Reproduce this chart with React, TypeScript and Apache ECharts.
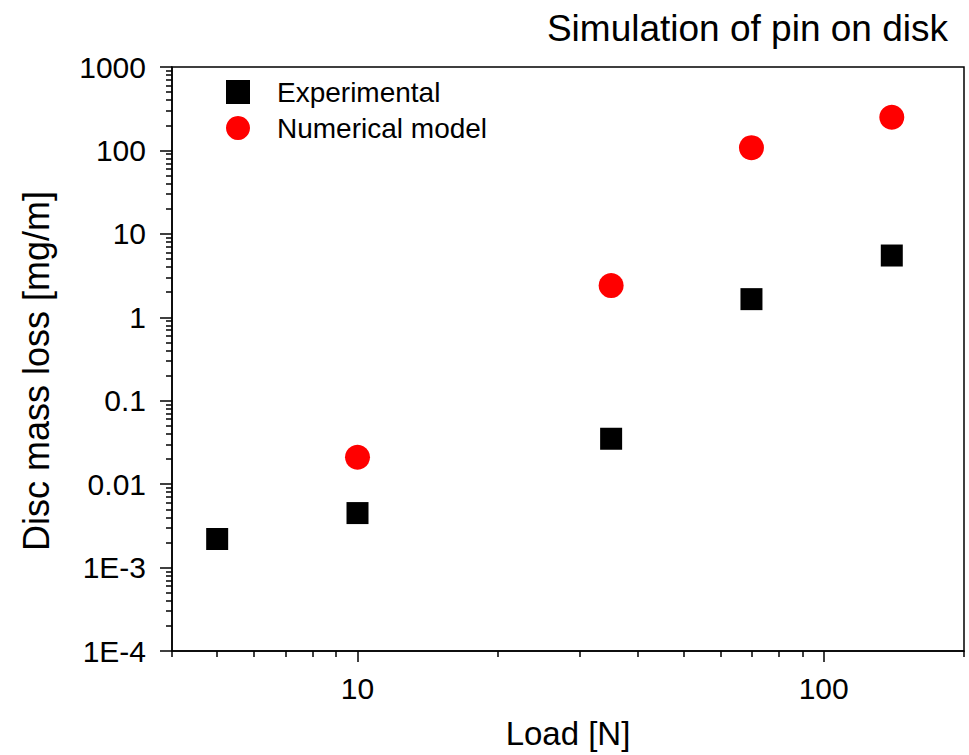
import React, { useEffect, useRef } from "react";
import * as echarts from "echarts";

// Experimental data
const expLoad = [5, 10, 35, 70, 140];
const expLoss = [0.0022, 0.0045, 0.035, 1.65, 5.5];
// Numerical model
const numLoad = [10, 35, 70, 140];
const numLoss = [0.021, 2.4, 108, 250];

// Axis ticks
const yMajor = [1e-4, 1e-3, 0.01, 0.1, 1, 10, 100, 1000];
const yLabels = ["1E-4", "1E-3", "0.01", "0.1", "1", "10", "100", "1000"];
const xMajor = [10, 100];
const xLabels = ["10", "100"];
const minorMultipliers = [2, 3, 4, 5, 6, 7, 8, 9];
const xMinorExtra = [4, 5, 6, 7, 8, 9, 20, 30, 40, 50, 60, 70, 80, 90, 200];

const FONT = "Liberation Sans, Arial, Helvetica, sans-serif";

function yMinorTicks(): number[] {
  const out: number[] = [];
  for (let i = 0; i < yMajor.length - 1; i++) {
    for (const m of minorMultipliers) out.push(yMajor[i] * m);
  }
  return out;
}

export default function App() {
  const ref = useRef<HTMLDivElement>(null);
  useEffect(() => {
    if (!ref.current) return;
    const chart = echarts.init(ref.current, undefined, { renderer: "svg" });
    const axisLine = { show: true, lineStyle: { color: "#000", width: 1.5 } };
    const option: any = {
      animation: false,
      textStyle: { fontFamily: FONT },
      title: {
        text: "Simulation of pin on disk",
        right: 16,
        top: 5,
        textStyle: { fontSize: 37, fontWeight: "normal", color: "#000", fontFamily: FONT },
      },
      legend: {
        data: ["Experimental", "Numerical model"],
        orient: "vertical",
        left: 221,
        top: 73,
        itemWidth: 24,
        itemHeight: 24,
        itemGap: 8,
        textStyle: { fontSize: 28, color: "#000", padding: [0, 0, 0, 22], fontFamily: FONT },
      },
      grid: {
        left: 172,
        right: 5,
        top: 67,
        bottom: 104,
        show: true,
        borderColor: "#000",
        borderWidth: 1.5,
      },
      graphic: [
        {
          type: "text",
          x: 36,
          y: 371,
          rotation: Math.PI / 2,
          style: {
            text: "Disc mass loss [mg/m]",
            fontSize: 36,
            fill: "#000",
            fontFamily: FONT,
            align: "center",
            verticalAlign: "middle",
          },
        },
      ],
      xAxis: [
        {
          type: "log",
          logBase: 10,
          min: 4,
          max: 200,
          position: "bottom",
          axisLine,
          axisTick: { show: true, inside: false, length: 11, customValues: xMajor, lineStyle: { color: "#000", width: 1.5 } },
          axisLabel: {
            customValues: xMajor,
            formatter: (v: number) => xLabels[Math.round(Math.log10(v)) - 1],
            fontSize: 30,
            color: "#000",
            margin: 22,
            fontFamily: FONT,
          },
          splitLine: { show: false },
          minorTick: { show: false },
          name: "Load [N]",
          nameLocation: "middle",
          nameGap: 66,
          nameTextStyle: { fontSize: 33, color: "#000", fontFamily: FONT },
        },
        {
          type: "log",
          logBase: 10,
          min: 4,
          max: 200,
          position: "bottom",
          offset: 0,
          axisLine: { show: false },
          axisTick: { show: true, inside: false, length: 6, customValues: xMinorExtra, lineStyle: { color: "#000", width: 1.5 } },
          axisLabel: { show: false },
          splitLine: { show: false },
        },
      ],
      yAxis: [
        {
          type: "log",
          logBase: 10,
          min: 1e-4,
          max: 1000,
          position: "left",
          axisLine,
          axisTick: { show: true, inside: false, length: 12, customValues: yMajor, lineStyle: { color: "#000", width: 1.5 } },
          axisLabel: {
            customValues: yMajor,
            formatter: (v: number) => yLabels[Math.round(Math.log10(v)) + 4],
            fontSize: 30,
            color: "#000",
            margin: 26,
            fontFamily: FONT,
          },
          splitLine: { show: false },
        },
        {
          type: "log",
          logBase: 10,
          min: 1e-4,
          max: 1000,
          position: "left",
          offset: 0,
          axisLine: { show: false },
          axisTick: { show: true, inside: false, length: 6, customValues: yMinorTicks(), lineStyle: { color: "#000", width: 1.5 } },
          axisLabel: { show: false },
          splitLine: { show: false },
        },
      ],
      series: [
        {
          name: "Experimental",
          type: "scatter",
          xAxisIndex: 0,
          yAxisIndex: 0,
          symbol: "rect",
          symbolSize: 22,
          itemStyle: { color: "#000", opacity: 1 },
          data: expLoad.map((x, i) => [x, expLoss[i]]),
        },
        {
          name: "Numerical model",
          type: "scatter",
          xAxisIndex: 0,
          yAxisIndex: 0,
          symbol: "circle",
          symbolSize: 25,
          itemStyle: { color: "#ff0000", opacity: 1 },
          data: numLoad.map((x, i) => [x, numLoss[i]]),
        },
      ],
    };
    chart.setOption(option);
    return () => chart.dispose();
  }, []);
  return (
    <div
      ref={ref}
      style={{ position: "absolute", left: 0, top: 0, width: 969, height: 755, background: "#fff" }}
    />
  );
}
